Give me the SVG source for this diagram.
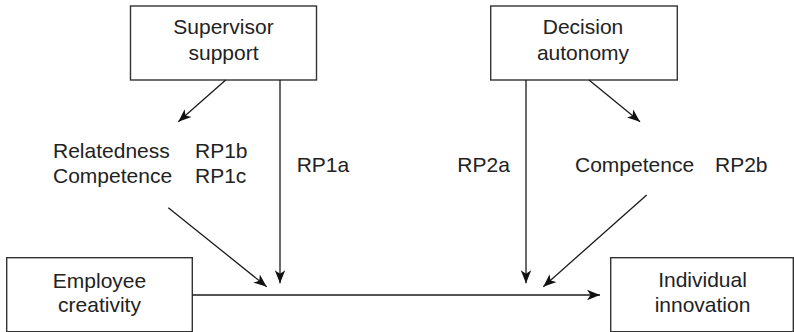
<svg xmlns="http://www.w3.org/2000/svg" width="794" height="332" viewBox="0 0 794 332">
<defs>
<style>
.box{fill:#fff;stroke:#333;stroke-width:1.4}
.lbl{font-family:"Liberation Sans",Arial,sans-serif;font-size:21px;fill:#222}
.c{text-anchor:middle}
.ln{fill:none;stroke:#1a1a1a;stroke-width:1.3}
</style>
<marker id="ah" markerUnits="userSpaceOnUse" markerWidth="14" markerHeight="12" viewBox="0 0 14 12" refX="13" refY="6" orient="auto">
<path d="M0,0.8 L13,6 L0,11.2 L3.5,6 Z" fill="#111"/>
</marker>
</defs>
<rect width="794" height="332" fill="#fff"/>
<g id="supervisor">
<rect class="box" x="130.5" y="6" width="186" height="74"/>
<text class="lbl c" x="223.5" y="34.3">Supervisor</text>
<text class="lbl c" x="223.5" y="60">support</text>
</g>
<g id="decision">
<rect class="box" x="490.7" y="6" width="186.6" height="74"/>
<text class="lbl c" x="583" y="34.3">Decision</text>
<text class="lbl c" x="583" y="60">autonomy</text>
</g>
<g id="employee">
<rect class="box" x="6.7" y="257.7" width="185.6" height="74"/>
<text class="lbl c" x="99.5" y="287.5">Employee</text>
<text class="lbl c" x="99.5" y="312">creativity</text>
</g>
<g id="innovation">
<rect class="box" x="610.7" y="257.7" width="182.6" height="74"/>
<text class="lbl c" x="702.5" y="287">Individual</text>
<text class="lbl c" x="702.5" y="312">innovation</text>
</g>
<g id="mediators1">
<text class="lbl" x="53" y="158">Relatedness</text>
<text class="lbl" x="195" y="158">RP1b</text>
<text class="lbl" x="53" y="183.3">Competence</text>
<text class="lbl" x="195" y="183.3">RP1c</text>
</g>
<g id="mediators2">
<text class="lbl" x="575" y="172">Competence</text>
<text class="lbl" x="715" y="172">RP2b</text>
</g>
<g id="labels">
<text class="lbl" x="296.7" y="172">RP1a</text>
<text class="lbl" x="457.3" y="172">RP2a</text>
</g>
<g id="connectors">
<line class="ln" x1="192.3" y1="295" x2="600" y2="295" marker-end="url(#ah)"/>
<line class="ln" x1="225.7" y1="80" x2="178.3" y2="121.7" marker-end="url(#ah)"/>
<line class="ln" x1="280" y1="80" x2="280" y2="283.3" marker-end="url(#ah)"/>
<line class="ln" x1="168.3" y1="207.7" x2="266.7" y2="286.7" marker-end="url(#ah)"/>
<line class="ln" x1="589" y1="80" x2="640" y2="121.7" marker-end="url(#ah)"/>
<line class="ln" x1="526" y1="80" x2="526" y2="283.3" marker-end="url(#ah)"/>
<line class="ln" x1="646.7" y1="195" x2="543.3" y2="286.7" marker-end="url(#ah)"/>
</g>
</svg>
